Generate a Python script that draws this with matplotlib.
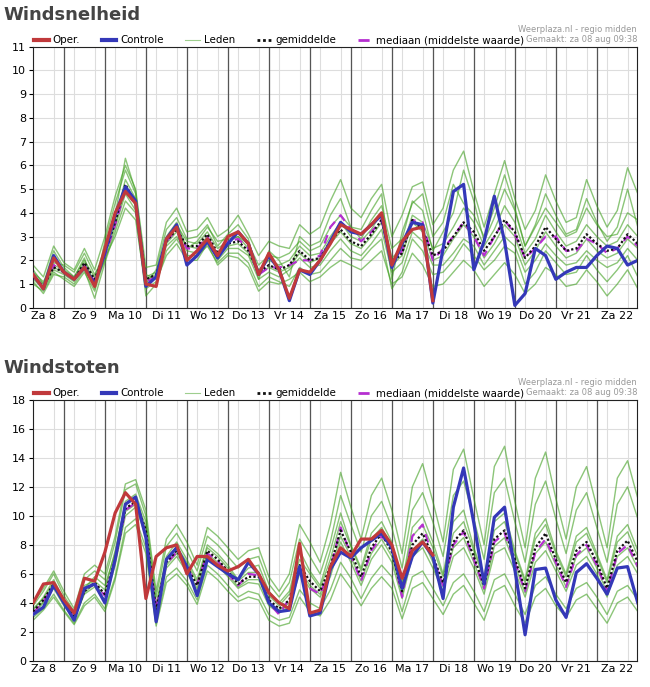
import matplotlib.pyplot as plt
from matplotlib.lines import Line2D
import numpy as np

days = ["Za 8", "Zo 9", "Ma 10", "Di 11", "Wo 12", "Do 13", "Vr 14", "Za 15",
        "Zo 16", "Ma 17", "Di 18", "Wo 19", "Do 20", "Vr 21", "Za 22"]

# 6-hourly steps, starting Za 8 06:00
t = np.arange(60) * 0.25 + 0.25

# ---- Windsnelheid ----
speed_oper = [1.4, 0.8, 2.1, 1.5, 1.2, 1.7, 0.9, 2.5, 4.0, 4.9, 4.4, 1.0, 0.9, 2.9, 3.4, 2.0,
              2.4, 2.9, 2.2, 3.0, 3.2, 2.7, 1.4, 2.3, 1.6, 0.4, 1.6, 1.5, 2.0, 2.7, 3.5, 3.3,
              3.1, 3.5, 4.0, 1.8, 2.8, 3.3, 3.4, 0.3]
speed_ctrl = [1.4, 0.8, 2.2, 1.5, 1.2, 1.7, 1.0, 2.3, 3.9, 5.1, 4.5, 0.9, 1.3, 2.9, 3.5, 1.8,
              2.2, 2.8, 2.1, 2.7, 3.2, 2.7, 1.4, 2.2, 1.6, 0.3, 1.6, 1.4, 2.0, 2.8, 3.6, 3.2,
              3.1, 3.5, 3.9, 1.7, 2.7, 3.6, 3.5, 0.2, 2.5, 4.9, 5.2, 1.6, 2.8, 4.7, 2.8, 0.1,
              0.6, 2.5, 2.2, 1.2, 1.5, 1.7, 1.7, 2.2, 2.6, 2.5, 1.8, 2.0]
speed_mean = [1.3, 0.9, 1.7, 1.5, 1.2, 1.9, 1.2, 2.3, 3.6, 5.2, 4.4, 1.2, 1.4, 2.8, 3.3, 2.6,
              2.6, 3.1, 2.3, 2.7, 2.8, 2.4, 1.5, 1.8, 1.6, 1.8, 2.4, 2.0, 2.1, 2.8, 3.3, 2.8,
              2.6, 3.1, 3.7, 1.9, 2.3, 3.7, 3.3, 2.2, 2.4, 3.0, 3.6, 3.2, 2.4, 3.0, 3.7, 3.2,
              2.1, 2.6, 3.4, 2.9, 2.4, 2.5, 3.1, 2.7, 2.4, 2.5, 3.1, 2.7]
speed_median = [1.3, 0.9, 1.8, 1.5, 1.2, 1.8, 1.1, 2.2, 3.5, 5.0, 4.3, 1.1, 1.3, 2.8, 3.3, 2.5,
                2.5, 3.0, 2.2, 2.8, 2.9, 2.5, 1.4, 1.7, 1.7, 1.8, 2.0, 2.0, 2.2, 3.4, 3.9, 3.3,
                2.8, 3.2, 3.7, 1.8, 2.4, 3.7, 3.6, 2.0, 2.5, 3.0, 3.6, 3.0, 2.2, 3.0, 3.7, 3.1,
                2.1, 2.5, 3.0, 3.0, 2.4, 2.4, 2.9, 2.7, 2.3, 2.5, 3.0, 2.6]
speed_members = [
    [1.6, 1.0, 2.4, 1.7, 1.3, 2.1, 0.8, 2.8, 4.4, 5.8, 4.8, 1.0, 1.6, 3.3, 3.8, 2.9, 3.0, 3.5, 2.6, 3.1,
     3.5, 2.9, 1.2, 2.4, 2.0, 1.3, 3.0, 2.6, 2.8, 3.9, 4.6, 3.4, 3.3, 4.1, 4.8, 1.2, 3.2, 4.4, 4.8, 3.0,
     3.6, 5.2, 4.4, 3.9, 3.0, 4.2, 5.6, 4.2, 2.6, 3.5, 4.8, 3.9, 3.1, 3.3, 4.6, 3.6, 2.8, 3.4, 5.0, 3.4],
    [1.1, 0.6, 1.4, 1.3, 1.0, 1.6, 0.4, 1.9, 3.2, 4.5, 4.0, 0.5, 1.0, 2.4, 2.9, 2.2, 2.2, 2.6, 1.9, 2.3,
     2.3, 1.9, 0.9, 1.3, 1.1, 0.9, 1.7, 1.4, 1.5, 2.0, 2.5, 2.1, 2.0, 2.5, 2.9, 0.8, 1.5, 2.9, 2.4, 1.4,
     1.5, 2.0, 2.7, 2.2, 1.6, 2.0, 2.6, 2.3, 1.0, 1.5, 2.4, 1.9, 1.4, 1.5, 2.2, 1.6, 1.1, 1.6, 2.2, 1.3],
    [1.5, 1.1, 1.9, 1.8, 1.5, 2.3, 1.4, 2.2, 3.9, 6.3, 4.9, 1.4, 1.2, 3.0, 3.6, 2.5, 2.8, 3.4, 2.8, 2.9,
     3.0, 2.7, 1.8, 2.2, 2.1, 2.3, 2.8, 2.4, 2.6, 3.4, 3.9, 3.4, 2.9, 3.7, 4.3, 2.5, 2.9, 4.5, 4.1, 2.4,
     3.2, 4.0, 5.8, 4.5, 2.8, 3.8, 5.0, 4.1, 2.6, 3.4, 4.2, 3.6, 3.0, 3.2, 4.2, 3.5, 3.0, 3.1, 4.0, 3.7],
    [1.2, 0.8, 1.6, 1.4, 1.1, 1.8, 1.0, 2.0, 3.4, 4.8, 4.1, 1.1, 1.3, 2.6, 3.0, 2.4, 2.3, 2.9, 2.0, 2.5,
     2.5, 2.2, 1.2, 1.5, 1.3, 1.6, 2.1, 1.7, 1.8, 2.4, 2.9, 2.4, 2.2, 2.7, 3.3, 1.5, 1.9, 3.2, 2.8, 1.8,
     1.8, 2.3, 2.9, 2.6, 1.8, 2.4, 3.0, 2.6, 1.5, 2.0, 2.7, 2.2, 1.8, 1.9, 2.4, 2.0, 1.7, 1.9, 2.5, 2.0],
    [1.4, 1.0, 1.8, 1.6, 1.3, 2.0, 1.3, 2.5, 3.7, 5.4, 4.6, 1.3, 1.5, 2.9, 3.5, 2.8, 2.7, 3.2, 2.5, 2.8,
     3.0, 2.5, 1.6, 2.0, 1.8, 2.0, 2.6, 2.2, 2.3, 3.0, 3.6, 3.0, 2.8, 3.3, 4.0, 2.1, 2.5, 3.9, 3.6, 2.5,
     2.7, 3.4, 4.2, 3.6, 2.6, 3.3, 4.3, 3.6, 2.3, 2.9, 3.9, 3.2, 2.6, 2.8, 3.5, 3.0, 2.6, 2.8, 3.5, 3.0],
    [1.0, 0.7, 1.5, 1.2, 0.9, 1.5, 0.7, 2.1, 3.0, 4.2, 3.7, 0.8, 1.1, 2.2, 2.7, 2.0, 2.0, 2.7, 1.8, 2.2,
     2.1, 1.7, 0.7, 1.1, 1.0, 1.2, 1.5, 1.1, 1.3, 1.7, 2.0, 1.8, 1.6, 2.0, 2.4, 1.0, 1.3, 2.3, 1.8, 0.9,
     1.0, 1.5, 2.0, 1.6, 0.9, 1.4, 1.9, 1.4, 0.6, 1.0, 1.7, 1.4, 0.9, 1.0, 1.6, 1.1, 0.5, 1.0, 1.6, 0.8],
    [1.8, 1.3, 2.6, 1.9, 1.6, 2.5, 1.6, 3.0, 4.7, 6.0, 5.0, 1.7, 1.8, 3.6, 4.2, 3.2, 3.3, 3.8, 3.0, 3.3,
     3.9, 3.1, 2.2, 2.8, 2.6, 2.5, 3.5, 3.1, 3.4, 4.5, 5.4, 4.2, 3.8, 4.6, 5.2, 3.0, 3.9, 5.1, 5.3, 3.5,
     4.2, 5.8, 6.6, 4.9, 3.4, 4.8, 6.2, 4.6, 3.3, 4.1, 5.6, 4.5, 3.6, 3.8, 5.4, 4.3, 3.4, 4.1, 5.9, 4.8],
    [1.3, 0.9, 1.7, 1.5, 1.2, 1.9, 1.1, 2.4, 3.5, 5.0, 4.3, 1.2, 1.4, 2.7, 3.2, 2.6, 2.5, 3.0, 2.2, 2.6,
     2.7, 2.3, 1.4, 1.7, 1.5, 1.7, 2.3, 1.9, 2.1, 2.7, 3.2, 2.7, 2.5, 3.0, 3.6, 1.8, 2.2, 3.6, 3.2, 2.0,
     2.2, 2.9, 3.5, 3.0, 2.1, 2.7, 3.5, 3.0, 1.8, 2.4, 3.2, 2.6, 2.1, 2.3, 2.9, 2.4, 2.1, 2.3, 2.9, 2.5],
]

# ---- Windstoten ----
gust_oper = [4.0, 5.3, 5.4, 4.2, 3.3, 5.7, 5.5, 7.5, 10.2, 11.6, 10.8, 4.3, 7.2, 7.8, 8.0, 6.0,
             7.2, 7.2, 6.6, 6.2, 6.5, 7.0, 6.0, 4.7, 4.0, 3.6, 8.1, 3.3, 3.5, 6.5, 7.8, 7.2,
             8.4, 8.4, 9.0, 8.0, 5.7, 7.6, 8.2, 7.3]
gust_ctrl = [3.2, 3.7, 5.2, 4.0, 2.8, 5.0, 5.3, 4.0, 7.0, 10.8, 11.3, 8.5, 2.7, 7.0, 7.8, 6.5,
             4.5, 7.0, 6.5, 6.0, 5.6, 6.8, 6.0, 4.0, 3.4, 3.5, 6.5, 3.1, 3.3, 6.3, 7.5, 7.1,
             7.8, 8.3, 8.8, 7.8, 5.0, 7.2, 8.2, 7.2, 4.3, 10.6, 13.3, 9.5, 5.3, 9.9, 10.6, 6.3,
             1.8, 6.3, 6.4, 4.2, 3.0, 6.1, 6.7, 5.7, 4.6, 6.4, 6.5, 4.0]
gust_mean = [3.4, 4.2, 5.3, 4.0, 3.0, 4.8, 5.4, 4.6, 7.0, 10.5, 11.0, 9.0, 3.5, 6.8, 7.6, 6.5,
             5.2, 7.6, 7.0, 6.2, 5.3, 5.8, 5.8, 4.2, 3.6, 4.2, 6.6, 5.5, 4.8, 6.5, 9.0, 7.5,
             5.8, 7.8, 8.8, 7.5, 4.8, 8.0, 8.8, 7.2, 5.4, 8.2, 9.0, 7.2, 5.2, 8.4, 9.0, 7.0,
             5.0, 7.8, 8.8, 7.0, 5.4, 7.6, 8.2, 6.8, 5.0, 7.6, 8.3, 6.8]
gust_median = [3.3, 4.1, 5.2, 4.0, 3.0, 4.9, 5.3, 4.5, 6.9, 10.4, 10.9, 8.8, 3.6, 6.7, 7.5, 6.4,
               5.3, 7.4, 6.9, 6.0, 5.2, 6.0, 5.9, 4.0, 3.2, 4.3, 6.2, 5.0, 4.6, 6.3, 9.2, 7.3,
               5.5, 7.6, 8.6, 7.8, 4.4, 8.6, 9.4, 7.1, 5.2, 8.0, 8.9, 7.0, 5.0, 8.2, 8.8, 6.8,
               4.8, 7.5, 8.4, 6.8, 5.1, 7.3, 8.0, 6.6, 4.8, 7.4, 8.0, 6.5]
gust_members = [
    [3.8, 4.8, 6.0, 4.5, 3.4, 5.6, 6.2, 5.6, 8.2, 11.8, 12.2, 10.0, 4.4, 7.9, 8.8, 7.6, 6.2, 8.6, 8.0, 7.2,
     6.4, 7.0, 7.2, 5.3, 4.4, 5.4, 8.4, 7.2, 6.0, 8.2, 11.4, 9.4, 7.5, 10.0, 11.0, 9.2, 6.4, 10.4, 11.6, 9.6,
     7.2, 11.4, 12.4, 9.8, 7.0, 11.6, 12.6, 9.6, 6.8, 10.8, 12.4, 9.8, 7.4, 10.4, 11.6, 9.2, 6.8, 10.8, 12.0, 9.8],
    [3.0, 3.6, 4.6, 3.5, 2.6, 4.0, 4.6, 3.6, 5.8, 9.2, 9.8, 7.8, 2.6, 5.8, 6.4, 5.5, 4.2, 6.6, 6.0, 5.2,
     4.4, 4.8, 4.6, 3.2, 2.8, 3.0, 4.9, 4.0, 3.6, 4.9, 6.8, 5.7, 4.3, 5.7, 6.6, 5.8, 3.4, 5.8, 6.2, 5.0,
     3.8, 5.4, 6.0, 4.8, 3.4, 5.6, 6.0, 4.6, 3.2, 5.2, 5.8, 4.6, 3.6, 5.0, 5.4, 4.4, 3.2, 4.8, 5.2, 4.2],
    [3.5, 4.4, 5.6, 4.2, 3.2, 5.0, 5.8, 5.2, 7.4, 11.0, 11.5, 9.6, 3.8, 7.2, 8.2, 7.0, 5.6, 8.0, 7.4, 6.6,
     5.6, 6.4, 6.6, 4.8, 4.0, 4.8, 7.6, 6.2, 5.2, 7.6, 10.2, 8.0, 6.4, 8.8, 9.6, 8.2, 5.4, 9.2, 10.0, 8.2,
     6.0, 9.6, 10.4, 7.8, 5.8, 9.6, 10.2, 7.6, 5.6, 8.8, 9.8, 7.6, 6.0, 8.6, 9.2, 7.4, 5.6, 8.6, 9.4, 7.6],
    [3.2, 4.0, 5.0, 3.8, 2.9, 4.6, 5.1, 4.2, 6.6, 10.0, 10.6, 8.6, 3.2, 6.4, 7.2, 6.1, 4.8, 7.2, 6.6, 5.8,
     5.0, 5.4, 5.3, 3.8, 3.3, 3.8, 6.0, 5.0, 4.4, 5.8, 8.2, 6.8, 5.2, 7.0, 8.0, 6.8, 4.3, 7.2, 7.8, 6.4,
     4.8, 7.2, 7.8, 6.4, 4.6, 7.4, 7.8, 6.2, 4.4, 6.8, 7.6, 6.2, 4.8, 6.6, 7.2, 6.0, 4.4, 6.6, 7.2, 6.0],
    [3.6, 4.3, 5.4, 4.1, 3.1, 5.2, 5.5, 4.9, 7.6, 10.8, 11.3, 9.2, 3.9, 7.0, 7.9, 6.8, 5.4, 7.8, 7.2, 6.4,
     5.5, 6.1, 6.1, 4.5, 3.8, 4.6, 7.0, 6.0, 5.0, 7.0, 9.6, 7.9, 6.2, 8.4, 9.2, 7.9, 5.2, 8.6, 9.4, 7.8,
     5.8, 8.8, 9.6, 7.6, 5.6, 9.0, 9.6, 7.4, 5.4, 8.4, 9.4, 7.4, 5.8, 8.2, 8.8, 7.2, 5.4, 8.2, 8.9, 7.2],
    [2.8, 3.5, 4.4, 3.4, 2.5, 3.8, 4.4, 3.4, 5.6, 8.8, 9.4, 7.4, 2.4, 5.4, 6.0, 5.2, 3.9, 6.2, 5.6, 4.8,
     4.1, 4.4, 4.2, 2.8, 2.4, 2.6, 4.4, 3.4, 3.1, 4.2, 6.0, 5.0, 3.8, 5.0, 5.8, 5.0, 2.9, 5.0, 5.4, 4.3,
     3.2, 4.6, 5.2, 4.0, 2.8, 4.8, 5.2, 3.8, 2.6, 4.4, 5.0, 3.8, 3.0, 4.2, 4.6, 3.6, 2.6, 4.0, 4.4, 3.4],
    [4.0, 5.0, 6.2, 4.8, 3.6, 6.0, 6.6, 6.0, 8.6, 12.2, 12.5, 10.4, 4.8, 8.4, 9.4, 8.2, 6.6, 9.2, 8.6, 7.8,
     7.0, 7.6, 7.8, 5.8, 4.8, 6.0, 9.4, 8.2, 6.8, 9.4, 13.0, 10.6, 8.4, 11.4, 12.6, 10.4, 7.4, 12.0, 13.6, 11.0,
     8.2, 13.2, 14.6, 11.2, 8.0, 13.4, 14.8, 11.0, 7.8, 12.6, 14.4, 11.2, 8.4, 12.0, 13.4, 10.6, 7.8, 12.6, 13.8, 11.2],
    [3.3, 4.1, 5.2, 3.9, 2.9, 4.7, 5.3, 4.5, 6.9, 10.3, 10.8, 8.8, 3.4, 6.6, 7.4, 6.3, 5.0, 7.4, 6.8, 6.0,
     5.1, 5.6, 5.6, 4.0, 3.5, 4.0, 6.3, 5.2, 4.6, 6.2, 8.6, 7.2, 5.5, 7.4, 8.4, 7.2, 4.6, 7.6, 8.4, 6.8,
     5.1, 7.8, 8.5, 6.8, 4.9, 7.9, 8.5, 6.6, 4.7, 7.4, 8.2, 6.6, 5.1, 7.2, 7.8, 6.4, 4.7, 7.2, 7.8, 6.4],
]

RED = "#c0393b"
BLUE = "#3438b8"
GREEN = "#3f9f1f"
MAG = "#b52fd0"


def panel(ax, oper, ctrl, mean, median, members, ymax, ystep):
    for m in members:
        ax.plot(t, m, color=GREEN, lw=1.0, alpha=0.6, zorder=2)
    ax.plot(t, median, color=MAG, lw=1.6, ls=(0, (4, 3)), zorder=3)
    ax.plot(t, mean, color="#111111", lw=1.6, ls=(0, (1, 1)), zorder=4)
    ax.plot(t, ctrl, color=BLUE, lw=2.3, zorder=5)
    ax.plot(t[:len(oper)], oper, color=RED, lw=2.3, zorder=6)

    ax.set_xlim(0.25, 14.98)
    ax.set_ylim(0, ymax)
    ax.set_yticks(np.arange(0, ymax + 1, ystep))
    ax.set_xticks(np.arange(len(days)) + 0.5)
    ax.set_xticklabels(days)
    ax.set_xticks(np.arange(0.25, 15, 0.25), minor=True)
    ax.tick_params(axis="x", which="major", length=0, labelsize=8, pad=2)
    ax.tick_params(axis="x", which="minor", length=0)
    ax.tick_params(axis="y", labelsize=8, length=3, pad=2)
    ax.grid(True, which="minor", axis="x", color="#dddddd", lw=0.8)
    ax.grid(True, which="major", axis="y", color="#dddddd", lw=0.8)
    for d in range(1, 15):
        ax.axvline(d, color="#555555", lw=0.9, zorder=1)
    ax.set_axisbelow(True)
    for s in ax.spines.values():
        s.set_color("#222222")

    handles = [Line2D([], [], color=RED, lw=3),
               Line2D([], [], color=BLUE, lw=3),
               Line2D([], [], color=GREEN, lw=0.8, alpha=0.5),
               Line2D([], [], color="#111111", lw=2, ls=(0, (1, 1))),
               Line2D([], [], color=MAG, lw=2, ls=(0, (4, 3)))]
    labels = ["Oper.", "Controle", "Leden", "gemiddelde", "mediaan (middelste waarde)"]
    ax.legend(handles, labels, loc="lower left", bbox_to_anchor=(-0.005, 0.99), ncol=5,
              frameon=False, fontsize=7.4, handlelength=1.4, handletextpad=0.4,
              columnspacing=2.1, borderaxespad=0)
    ax.text(1.0, 1.012, "Weerplaza.nl - regio midden\nGemaakt: za 08 aug 09:38",
            transform=ax.transAxes, ha="right", va="bottom", fontsize=6,
            color="#999999", linespacing=1.1)


fig = plt.figure(figsize=(6.5, 6.87), dpi=100)
ax1 = fig.add_axes([0.051, 0.552, 0.929, 0.38])
ax2 = fig.add_axes([0.051, 0.038, 0.929, 0.38])
panel(ax1, speed_oper, speed_ctrl, speed_mean, speed_median, speed_members, 11, 1)
panel(ax2, gust_oper, gust_ctrl, gust_mean, gust_median, gust_members, 18, 2)
fig.text(0.006, 0.978, "Windsnelheid", fontsize=13, fontweight="bold", color="#444444", va="center")
fig.text(0.006, 0.465, "Windstoten", fontsize=13, fontweight="bold", color="#444444", va="center")
fig.savefig("out.png")
